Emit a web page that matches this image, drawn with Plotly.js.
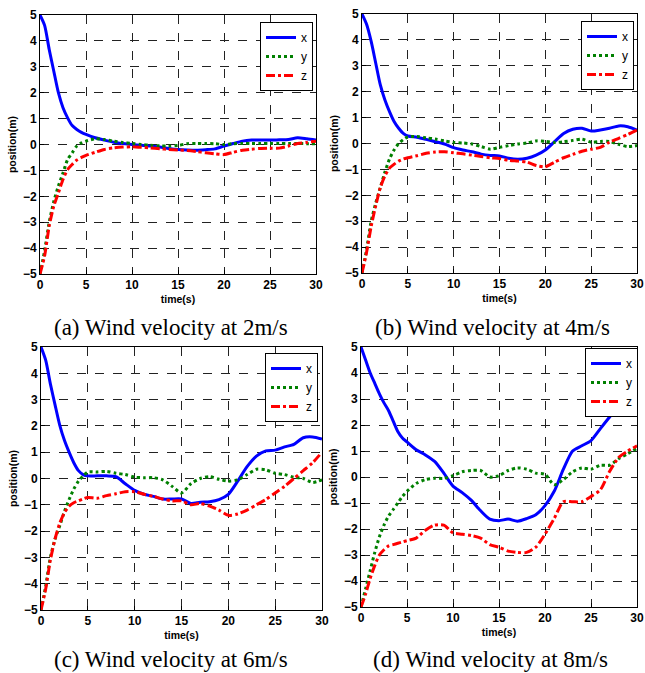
<!DOCTYPE html>
<html><head><meta charset="utf-8">
<script src="https://cdn.plot.ly/plotly-3.0.1.min.js"></script>
<style>html,body{margin:0;padding:0;background:#fff}#plot{width:645px;height:673px}</style>
</head><body><div id="plot"></div>
<script>
const time = [0,0.5,1,1.5,2,2.5,3,3.5,4,4.5,5,6,7,8,9,10,11,12,13,14,15,16,17,18,19,20,21,22,23,24,25,26,27,28,29,30];
const seriesNames = ['x','y','z'];
const captions = ['(a) Wind velocity at 2m/s','(b) Wind velocity at 4m/s','(c) Wind velocity at 6m/s','(d) Wind velocity at 8m/s'];
const xTitle = 'time(s)';
const yTitle = 'position(m)';

const a_x = [5,4.6,3.67,2.83,2.0,1.42,1.03,0.73,0.58,0.47,0.39,0.26,0.17,0.09,0.04,0.0,-0.03,-0.06,-0.1,-0.15,-0.19,-0.21,-0.22,-0.2,-0.17,-0.06,0.04,0.13,0.17,0.17,0.17,0.18,0.19,0.26,0.22,0.17];
const a_y = [-5,-4.1,-3.0,-2.2,-1.6,-1.1,-0.58,-0.32,-0.06,0.06,0.13,0.22,0.19,0.13,0.08,0.04,0.0,-0.03,-0.05,-0.06,-0.04,0.03,0.04,0.04,0.03,0.0,0.03,0.04,0.04,0.04,0.04,0.04,0.04,0.04,0.03,0.03];
const a_z = [-5,-4.3,-3.15,-2.38,-1.87,-1.35,-0.97,-0.77,-0.6,-0.5,-0.42,-0.3,-0.19,-0.13,-0.1,-0.09,-0.11,-0.13,-0.16,-0.19,-0.21,-0.23,-0.27,-0.32,-0.36,-0.39,-0.3,-0.22,-0.18,-0.15,-0.14,-0.14,-0.06,0.04,0.08,0.13];

const b_x = [5,4.6,3.94,3.1,2.26,1.68,1.23,0.85,0.59,0.39,0.29,0.24,0.16,0.07,-0.02,-0.16,-0.25,-0.32,-0.41,-0.46,-0.48,-0.57,-0.61,-0.57,-0.45,-0.25,0.07,0.39,0.55,0.59,0.48,0.52,0.59,0.68,0.65,0.52];
const b_y = [-5,-4.1,-3.0,-2.3,-1.7,-1.1,-0.6,-0.25,0.0,0.15,0.25,0.27,0.22,0.17,0.1,0.04,0.02,-0.02,-0.12,-0.22,-0.15,-0.08,-0.02,0.02,0.1,0.08,0.04,0.07,0.12,0.17,0.05,0.08,0.08,-0.03,-0.12,-0.08];
const b_z = [-5,-4.2,-3.2,-2.4,-1.7,-1.25,-0.95,-0.8,-0.68,-0.6,-0.55,-0.47,-0.38,-0.33,-0.32,-0.36,-0.4,-0.45,-0.5,-0.55,-0.58,-0.65,-0.68,-0.72,-0.85,-0.9,-0.72,-0.55,-0.42,-0.3,-0.22,-0.15,0.05,0.2,0.35,0.52];

const c_x = [5,4.5,3.6,2.8,2.03,1.45,1.0,0.6,0.3,0.15,0.1,0.1,0.1,0.07,-0.2,-0.45,-0.6,-0.68,-0.78,-0.78,-0.78,-0.95,-0.9,-0.88,-0.8,-0.6,-0.1,0.45,0.85,1.05,1.08,1.2,1.3,1.55,1.58,1.5];
const c_y = [-5,-4.1,-3.0,-2.3,-1.8,-1.25,-0.8,-0.4,-0.1,0.1,0.25,0.25,0.27,0.2,0.15,0.05,0.03,0.03,-0.05,-0.3,-0.55,-0.2,0.0,0.07,-0.03,-0.1,-0.05,0.15,0.35,0.33,0.2,0.15,0.05,0.0,-0.15,-0.05];
const c_z = [-5,-4.2,-3.1,-2.3,-1.7,-1.3,-1.05,-0.92,-0.85,-0.78,-0.72,-0.75,-0.65,-0.58,-0.5,-0.5,-0.6,-0.68,-0.78,-0.85,-0.85,-1.0,-0.95,-1.05,-1.2,-1.4,-1.35,-1.2,-1.0,-0.8,-0.55,-0.3,0.0,0.3,0.6,1.0];

const d_x = [5,4.5,4.0,3.6,3.2,2.85,2.55,2.15,1.75,1.5,1.35,1.05,0.85,0.6,0.15,-0.35,-0.6,-0.9,-1.3,-1.62,-1.68,-1.62,-1.7,-1.6,-1.45,-1.1,-0.55,0.3,1.0,1.2,1.4,1.85,2.3,2.75,3.2,3.6];
const d_y = [-5,-4.3,-3.6,-2.9,-2.3,-1.85,-1.5,-1.25,-1.0,-0.75,-0.55,-0.25,-0.1,-0.05,-0.05,0.05,0.2,0.25,0.25,0.0,0.05,0.25,0.35,0.3,0.15,0.1,-0.3,-0.1,0.2,0.35,0.3,0.45,0.45,0.7,0.9,1.1];
const d_z = [-5,-4.5,-3.9,-3.4,-3.0,-2.8,-2.65,-2.6,-2.55,-2.5,-2.45,-2.35,-2.05,-1.85,-1.85,-2.15,-2.2,-2.25,-2.35,-2.6,-2.7,-2.85,-2.9,-2.9,-2.7,-2.2,-1.6,-0.95,-0.95,-0.95,-0.75,-0.5,0.2,0.75,1.0,1.2];

const panels = [[a_x,a_y,a_z],[b_x,b_y,b_z],[c_x,c_y,c_z],[d_x,d_y,d_z]];

const W = 645, H = 673;
// plot areas in pixels [left, right, top, bottom]
const boxes = [[40,316,15,274],[362,637,14,273],[41,322,347,610],[361,637,347,607]];
const legendPos = [[313,22],[634,21],[318,353],[638,348]];
const captionPos = [[171,327],[492,327],[171,659],[490,659]];

const styles = [
  {color:'#0000ff', width:3, dash:'solid'},
  {color:'#008000', width:3, dash:'dot'},
  {color:'#ff0000', width:3, dash:'dashdot'}
];

const traces = [];
const layout = {
  width: W, height: H, margin:{l:0,r:0,t:0,b:0},
  paper_bgcolor:'#fff', plot_bgcolor:'#fff',
  showlegend:true, annotations:[]
};
const tickFont = {family:'Liberation Sans, Arial', size:12, color:'#000', weight:'bold'};
const titleFont = {family:'Liberation Sans, Arial', size:10.5, color:'#000', weight:'bold'};

panels.forEach((p, i) => {
  const n = i === 0 ? '' : String(i+1);
  const leg = i === 0 ? 'legend' : 'legend' + (i+1);
  p.forEach((vals, k) => {
    traces.push({
      x: time, y: vals, type:'scatter', mode:'lines',
      name: seriesNames[k], xaxis:'x'+n, yaxis:'y'+n, legend: leg,
      line: {color: styles[k].color, width: styles[k].width, dash: styles[k].dash, shape:'spline', smoothing:0.7}
    });
  });
  const b = boxes[i];
  const common = {showline:true, mirror:true, linecolor:'#000', linewidth:1,
    showgrid:true, gridcolor:'#222', griddash:'dash', gridwidth:1,
    zeroline:false, ticks:'inside', ticklen:4, tickcolor:'#000', tickfont:tickFont};
  layout['xaxis'+n] = Object.assign({}, common, {
    domain:[b[0]/W, b[1]/W], anchor:'y'+n, range:[0,30], tickvals:[0,5,10,15,20,25,30],
    title:{text:xTitle, font:titleFont, standoff:4}
  });
  layout['yaxis'+n] = Object.assign({}, common, {
    domain:[1-b[3]/H, 1-b[2]/H], anchor:'x'+n, range:[-5,5], tickvals:[-5,-4,-3,-2,-1,0,1,2,3,4,5],
    title:{text:yTitle, font:titleFont, standoff:4}
  });
  layout[leg] = {
    x: legendPos[i][0]/W, y: 1-legendPos[i][1]/H, xanchor:'right', yanchor:'top',
    bgcolor:'#fff', bordercolor:'#000', borderwidth:1,
    font:{family:'Liberation Sans, Arial', size:12, color:'#000'},
    itemwidth:30, tracegroupgap:0
  };
  layout.annotations.push({
    text: captions[i], xref:'paper', yref:'paper',
    x: captionPos[i][0]/W, y: 1-captionPos[i][1]/H, xanchor:'center', yanchor:'middle',
    showarrow:false, font:{family:'Liberation Serif, DejaVu Serif, serif', size:23, color:'#000'}
  });
});

Plotly.newPlot('plot', traces, layout, {staticPlot:true});
</script></body></html>
